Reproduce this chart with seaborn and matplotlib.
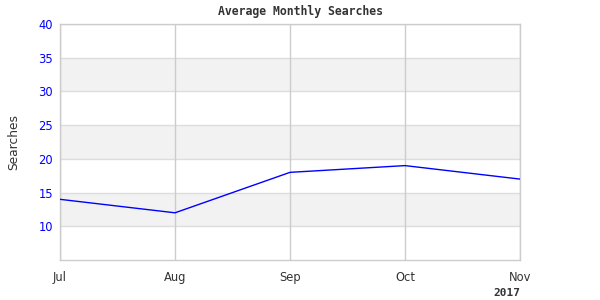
import matplotlib
matplotlib.use("Agg")
import matplotlib.pyplot as plt
import seaborn as sns
import pandas as pd

months = ["Jul", "Aug", "Sep", "Oct", "Nov"]
searches = [14, 12, 18, 19, 17]
y_ticks = [10, 15, 20, 25, 30, 35, 40]
year_label = "2017"

sns.set_theme(style="white")
plt.rcParams["font.family"] = ["DejaVu Sans"]

df = pd.DataFrame({"month": months, "searches": searches, "x": range(len(months))})

fig = plt.figure(figsize=(6, 3), dpi=100)
ax = fig.add_axes([0.1, 0.1333, 0.7667, 0.7867])

# alternating bands
for lo in (10, 20, 30):
    ax.axhspan(lo, lo + 5, color="#f2f2f2", zorder=0, lw=0)
for y in y_ticks:
    ax.axhline(y, color="#dddddd", lw=1, zorder=1)
for x in range(len(months)):
    ax.axvline(x, color="#cccccc", lw=1, zorder=1)

sns.lineplot(data=df, x="x", y="searches", color="#0000ff", lw=1, ax=ax, zorder=3)

ax.set_xlim(0, len(months) - 1)
ax.set_ylim(5, 40)
ax.set_xticks(range(len(months)))
ax.set_xticklabels(months)
ax.set_yticks(y_ticks)
ax.tick_params(axis="y", colors="#0000ff", labelsize=8.3, length=0, pad=5)
ax.tick_params(axis="x", labelcolor="#333333", labelsize=8.3, length=0, pad=8)
for lab in ax.get_yticklabels():
    lab.set_color("#0000ff")
for s in ax.spines.values():
    s.set_color("#cccccc")
    s.set_linewidth(1)

ax.set_xlabel("")
ax.set_ylabel("Searches", fontsize=8.8, color="#333333", labelpad=13)
fig.text(0.5, 0.96, "Average Monthly Searches", ha="center", va="center",
         fontsize=8.3, fontweight="bold", family="DejaVu Sans Mono", color="#333333")
fig.text(0.8667, 0.005, year_label, ha="right", va="bottom", fontsize=8,
         fontweight="bold", family="DejaVu Sans Mono", color="#333333")

fig.savefig("out.png", dpi=100, facecolor="white")
